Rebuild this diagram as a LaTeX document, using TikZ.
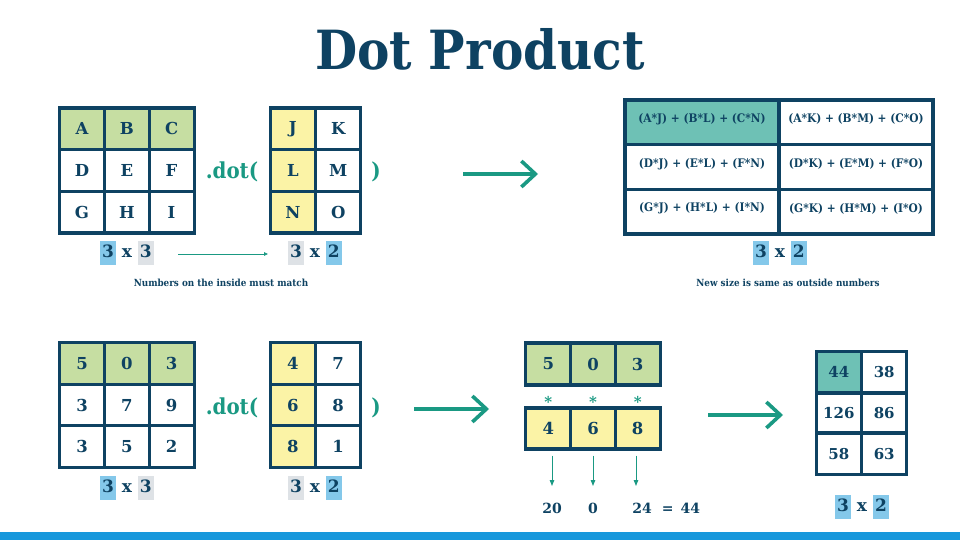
\documentclass[tikz,border=0pt]{standalone}
\usepackage{fontspec}
\setmainfont{DejaVu Serif Condensed}
\newfontfamily\widefont{DejaVu Serif}
\usetikzlibrary{arrows.meta}
\definecolor{navy}{HTML}{0E4262}
\definecolor{gfill}{HTML}{C6DEA2}
\definecolor{yfill}{HTML}{FBF3A6}
\definecolor{tfill}{HTML}{6EC1B5}
\definecolor{teal2}{HTML}{1A9983}
\definecolor{hlblue}{HTML}{84C8EA}
\definecolor{hlgray}{HTML}{DEE2E6}
\definecolor{barblue}{HTML}{1798DC}
\newcommand\hlb[1]{{\setlength\fboxsep{2pt}\colorbox{hlblue}{\strut #1}}}
\newcommand\hlg[1]{{\setlength\fboxsep{2pt}\colorbox{hlgray}{\strut #1}}}
\newcommand\up[1]{\raisebox{3pt}[\height][\depth]{#1}}
\begin{document}
\begin{tikzpicture}[x=1pt,y=-1pt,
  cell/.style={draw=navy, line width=3.2pt, minimum width=45, minimum height=41.7, inner sep=0pt,
    text=navy, font=\widefont\bfseries\fontsize{16.5}{19}\selectfont},
  wcell/.style={cell, minimum width=154, minimum height=44.7, font=\bfseries\fontsize{11.8}{14}\selectfont},
  dimlab/.style={text=navy, inner sep=0pt, font=\widefont\bfseries\fontsize{17}{20}\selectfont},
  caption/.style={text=navy, font=\bfseries\fontsize{9.8}{12}\selectfont},
  dottext/.style={text=teal2, font=\bfseries\fontsize{22}{26}\selectfont},
  bigarrow/.style={draw=teal2, line width=3.6pt, -{Straight Barb[length=14pt,width=26pt]}},
  thinarrow/.style={draw=teal2, line width=0.8pt, -{Triangle[length=4pt,width=3.5pt]}},
  downarrow/.style={draw=teal2, line width=1pt, -{Triangle[length=6pt,width=4.5pt]}},
  star/.style={text=teal2, font=\widefont\bfseries\fontsize{15}{18}\selectfont},
  resnum/.style={text=navy, font=\widefont\bfseries\fontsize{14}{17}\selectfont}
]
\useasboundingbox (0,0) rectangle (960,540);
\fill[barblue] (0,532) rectangle (960,540);

\node[text=navy, font=\bfseries\fontsize{54}{62}\selectfont] (title) at (480,49) {Dot Product};

% ---- top-left matrix
\node[cell, fill=gfill] (ta11) at (82,128.8) {A};
\node[cell, fill=gfill] (ta12) at (126.8,128.8) {B};
\node[cell, fill=gfill] (ta13) at (171.6,128.8) {C};
\node[cell] (ta21) at (82,170.5) {D};
\node[cell] (ta22) at (126.8,170.5) {E};
\node[cell] (ta23) at (171.6,170.5) {F};
\node[cell] (ta31) at (82,212.2) {G};
\node[cell] (ta32) at (126.8,212.2) {H};
\node[cell] (ta33) at (171.6,212.2) {I};

\node[dottext] (tdot) at (232,172) {.dot(};

\node[cell, fill=yfill] (tb11) at (292.8,128.8) {J};
\node[cell] (tb12) at (338.2,128.8) {K};
\node[cell, fill=yfill] (tb21) at (292.8,170.5) {L};
\node[cell] (tb22) at (338.2,170.5) {M};
\node[cell, fill=yfill] (tb31) at (292.8,212.2) {N};
\node[cell] (tb32) at (338.2,212.2) {O};

\node[dottext] (tclose) at (376,172) {)};

\node[dimlab] (tlab1) at (127,253) {\hlb{3} x \hlg{3}};
\node[dimlab] (tlab2) at (315,253) {\hlg{3} x \hlb{2}};
\coordinate (tarrS) at (178,254);
\coordinate (tarrE) at (268,254);
\draw[thinarrow] (tarrS) -- (tarrE);
\node[caption] (tcap1) at (221,283) {Numbers on the inside must match};

\coordinate (tbigS) at (463,174);
\coordinate (tbigE) at (538,174);
\draw[bigarrow] (tbigS) -- (tbigE);

% ---- top-right result matrix
\node[wcell, fill=tfill] (tc11) at (702,122.3) {\up{(A*J) + (B*L) + (C*N)}};
\node[wcell] (tc12) at (856,122.3) {\up{(A*K) + (B*M) + (C*O)}};
\node[wcell] (tc21) at (702,167) {\up{(D*J) + (E*L) + (F*N)}};
\node[wcell] (tc22) at (856,167) {\up{(D*K) + (E*M) + (F*O)}};
\node[wcell] (tc31) at (702,211.7) {\up{(G*J) + (H*L) + (I*N)}};
\node[wcell] (tc32) at (856,211.7) {\up{(G*K) + (H*M) + (I*O)}};

\node[dimlab] (tlab3) at (780,253) {\hlb{3} x \hlb{2}};
\node[caption] (tcap2) at (788,283) {New size is same as outside numbers};

% ---- bottom-left matrix
\node[cell, fill=gfill] (ba11) at (82,363.7) {5};
\node[cell, fill=gfill] (ba12) at (126.8,363.7) {0};
\node[cell, fill=gfill] (ba13) at (171.6,363.7) {3};
\node[cell] (ba21) at (82,405) {3};
\node[cell] (ba22) at (126.8,405) {7};
\node[cell] (ba23) at (171.6,405) {9};
\node[cell] (ba31) at (82,446.3) {3};
\node[cell] (ba32) at (126.8,446.3) {5};
\node[cell] (ba33) at (171.6,446.3) {2};

\node[dottext] (bdot) at (232,408) {.dot(};

\node[cell, fill=yfill] (bb11) at (292.8,363.7) {4};
\node[cell] (bb12) at (338.2,363.7) {7};
\node[cell, fill=yfill] (bb21) at (292.8,405) {6};
\node[cell] (bb22) at (338.2,405) {8};
\node[cell, fill=yfill] (bb31) at (292.8,446.3) {8};
\node[cell] (bb32) at (338.2,446.3) {1};

\node[dottext] (bclose) at (376,408) {)};

\node[dimlab] (blab1) at (127,488) {\hlb{3} x \hlg{3}};
\node[dimlab] (blab2) at (315,488) {\hlg{3} x \hlb{2}};

\coordinate (bbig1S) at (414,409);
\coordinate (bbig1E) at (489,409);
\draw[bigarrow] (bbig1S) -- (bbig1E);

% ---- bottom middle: row times column
\node[cell, fill=gfill, minimum height=42] (br1) at (548.3,364) {5};
\node[cell, fill=gfill, minimum height=42] (br2) at (593,364) {0};
\node[cell, fill=gfill, minimum height=42] (br3) at (637.7,364) {3};
\node[star] (s1) at (548.3,402) {*};
\node[star] (s2) at (593,402) {*};
\node[star] (s3) at (637.7,402) {*};
\node[cell, fill=yfill, minimum height=41] (bc1) at (548.3,428.5) {4};
\node[cell, fill=yfill, minimum height=41] (bc2) at (593,428.5) {6};
\node[cell, fill=yfill, minimum height=41] (bc3) at (637.7,428.5) {8};

\node[resnum] (p1) at (552,508) {20};
\node[resnum] (p2) at (593,508) {0};
\node[resnum] (p3) at (642,508) {24};
\node[resnum] (psum) at (681,508) {=\, 44};
\coordinate (d1) at (552,486);
\coordinate (d2) at (593,486);
\coordinate (d3) at (636,486);
\draw[downarrow, shorten <=5pt] (bc1.south -| d1) -- (d1);
\draw[downarrow, shorten <=5pt] (bc2.south -| d2) -- (d2);
\draw[downarrow, shorten <=5pt] (bc3.south -| d3) -- (d3);

\coordinate (bbig2S) at (708,415);
\coordinate (bbig2E) at (783,415);
\draw[bigarrow] (bbig2S) -- (bbig2E);

% ---- bottom-right result
\node[cell, fill=tfill, font=\widefont\bfseries\fontsize{15}{18}\selectfont] (bd11) at (838.8,372.3) {44};
\node[cell, font=\widefont\bfseries\fontsize{15}{18}\selectfont] (bd12) at (884.2,372.3) {38};
\node[cell, font=\widefont\bfseries\fontsize{15}{18}\selectfont] (bd21) at (838.8,413) {126};
\node[cell, font=\widefont\bfseries\fontsize{15}{18}\selectfont] (bd22) at (884.2,413) {86};
\node[cell, font=\widefont\bfseries\fontsize{15}{18}\selectfont] (bd31) at (838.8,453.7) {58};
\node[cell, font=\widefont\bfseries\fontsize{15}{18}\selectfont] (bd32) at (884.2,453.7) {63};

\node[dimlab] (blab3) at (862,507) {\hlb{3} x \hlb{2}};
\end{tikzpicture}
\end{document}
